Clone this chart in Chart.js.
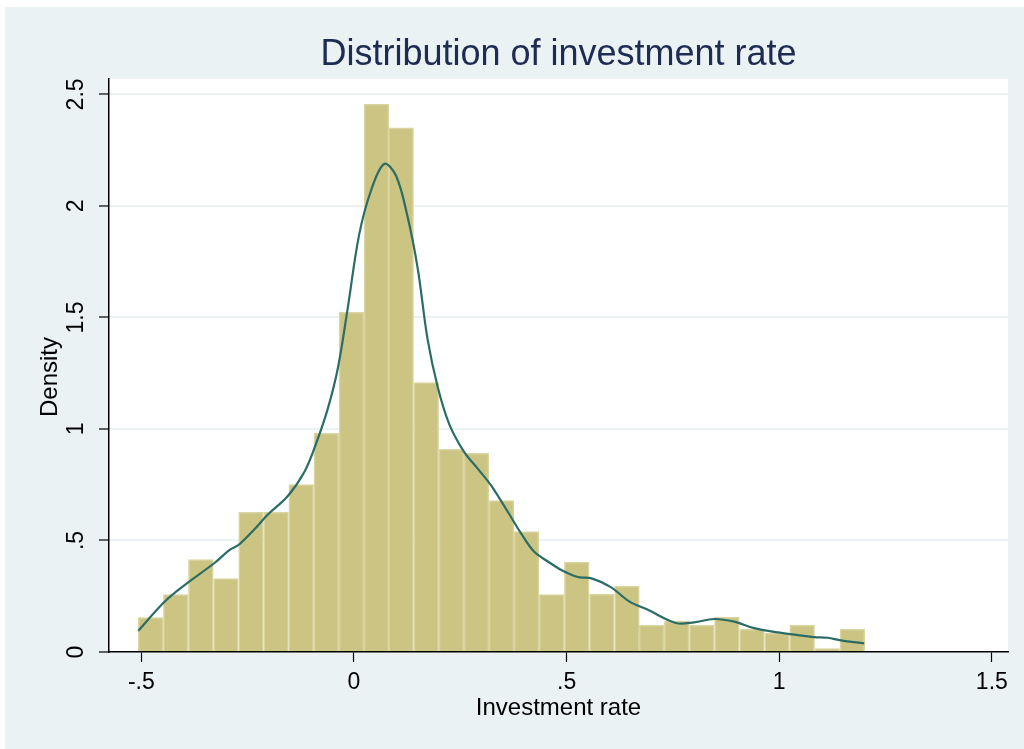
<!DOCTYPE html>
<html>
<head>
<meta charset="utf-8">
<script src="https://cdn.jsdelivr.net/npm/chart.js@4"></script>
<style>
  html, body { margin: 0; padding: 0; background: #fff; }
  #wrap { width: 1024px; height: 749px; }
</style>
</head>
<body>
<div id="wrap"><canvas id="myChart" width="1024" height="749"></canvas></div>
<script>
// histogram bins (centres) and densities
var binCenters = [-0.478,-0.419,-0.360,-0.301,-0.242,-0.183,-0.124,-0.065,-0.006,0.053,0.111,0.170,0.229,0.288,0.347,0.406,0.465,0.524,0.583,0.642,0.700,0.759,0.818,0.877,0.936,0.995,1.054,1.113,1.172];
var binDensity = [0.154,0.257,0.414,0.329,0.626,0.626,0.751,0.980,1.523,2.457,2.350,1.208,0.909,0.892,0.679,0.540,0.257,0.403,0.260,0.296,0.121,0.139,0.121,0.157,0.103,0.085,0.121,0.015,0.103];

// kernel density curve
var kdX = [-0.507,-0.446,-0.399,-0.328,-0.293,-0.270,-0.235,-0.203,-0.156,-0.117,-0.093,-0.062,-0.038,-0.015,0.012,0.040,0.071,0.099,0.126,0.150,0.173,0.197,0.224,0.259,0.291,0.322,0.361,0.393,0.424,0.455,0.490,0.526,0.557,0.604,0.647,0.690,0.757,0.800,0.847,0.894,0.941,0.996,1.035,1.082,1.114,1.145,1.200];
var kdY = [0.095,0.224,0.299,0.399,0.457,0.482,0.548,0.615,0.698,0.806,0.914,1.088,1.271,1.537,1.869,2.068,2.188,2.135,1.952,1.719,1.404,1.188,1.022,0.897,0.822,0.748,0.631,0.532,0.449,0.407,0.365,0.336,0.331,0.291,0.227,0.190,0.130,0.133,0.148,0.136,0.107,0.088,0.078,0.067,0.064,0.052,0.039];

var xTicks = [-0.5, 0, 0.5, 1, 1.5];
var yTicks = [0, 0.5, 1, 1.5, 2, 2.5];

var chartTitle = 'Distribution of investment rate';

function stataLabel(v) {
  var s = String(v);
  return s.replace(/^0\./, '.').replace(/^-0\./, '-.');
}

var bg = '#EAF2F3';
var fontFam = '"Liberation Sans", Arial, sans-serif';

var backdrop = {
  id: 'backdrop',
  beforeDraw: function(chart) {
    var c = chart.ctx, a = chart.chartArea;
    c.save();
    c.fillStyle = '#ffffff';
    c.fillRect(0, 0, chart.width, chart.height);
    c.fillStyle = bg;
    c.fillRect(5, 7, chart.width - 5, chart.height - 7);
    c.fillStyle = '#ffffff';
    c.fillRect(a.left, a.top, a.right - a.left, a.bottom - a.top);
    c.restore();
  },
  afterDraw: function(chart) {
    var c = chart.ctx, y = chart.scales.y, a = chart.chartArea;
    c.save();
    // title centred on the plot region
    c.fillStyle = '#1e2b52';
    c.textAlign = 'center';
    c.textBaseline = 'middle';
    c.font = '36px ' + fontFam;
    c.fillText(chartTitle, (a.left + a.right) / 2, 55);
    // rotated y tick labels
    c.fillStyle = '#000';
    c.font = '23px ' + fontFam;
    yTicks.forEach(function(v) {
      c.save();
      c.translate(77, y.getPixelForValue(v));
      c.rotate(-Math.PI / 2);
      c.fillText(stataLabel(v), 0, 0);
      c.restore();
    });
    c.font = '24px ' + fontFam;
    c.translate(50, 377);
    c.rotate(-Math.PI / 2);
    c.fillText('Density', 0, 0);
    c.restore();
  }
};

var ctx = document.getElementById('myChart').getContext('2d');
var myChart = new Chart(ctx, {
  type: 'bar',
  data: {
    datasets: [{
      type: 'line',
      label: 'kdensity',
      data: kdX.map(function(x, i) { return {x: x, y: kdY[i]}; }),
      borderColor: '#2b6d66',
      borderWidth: 2.2,
      pointRadius: 0,
      tension: 0.35,
      fill: false
    }, {
      type: 'bar',
      label: 'Density',
      data: binCenters.map(function(x, i) { return {x: x, y: binDensity[i]}; }),
      backgroundColor: '#CBC483',
      borderColor: '#DAD5A0',
      borderWidth: 1.5,
      barPercentage: 1,
      categoryPercentage: 1,
      grouped: false
    }]
  },
  options: {
    responsive: false,
    animation: false,
    layout: { padding: { left: 5, right: 16, top: 79, bottom: 0 } },
    plugins: {
      legend: { display: false },
      tooltip: { enabled: false },
      title: { display: false }
    },
    scales: {
      x: {
        type: 'linear',
        offset: false,
        min: -0.576,
        max: 1.538,
        afterFit: function(s) { s.height = 97; },
        afterBuildTicks: function(s) { s.ticks = xTicks.map(function(v) { return {value: v}; }); },
        ticks: {
          color: '#000',
          font: { family: fontFam, size: 23 },
          padding: 7,
          maxRotation: 0,
          callback: function(v) { return stataLabel(v); }
        },
        grid: { offset: false, drawOnChartArea: false, tickLength: 10, tickColor: '#000', tickWidth: 1.2 },
        border: { color: '#000', width: 1.5 },
        title: {
          display: true,
          text: 'Investment rate',
          color: '#000',
          font: { family: fontFam, size: 24 },
          padding: { top: 0, bottom: 26 }
        }
      },
      y: {
        min: 0,
        max: 2.569,
        afterFit: function(s) { s.width = 104; },
        afterBuildTicks: function(s) { s.ticks = yTicks.map(function(v) { return {value: v}; }); },
        ticks: { display: false },
        grid: {
          color: function(c) { return c.tick && c.tick.value === 0 ? 'rgba(0,0,0,0)' : bg; },
          lineWidth: 2,
          tickLength: 10,
          tickColor: '#000',
          tickWidth: 1.2
        },
        border: { color: '#000', width: 1.5 }
      }
    }
  },
  plugins: [backdrop]
});
</script>
</body>
</html>
